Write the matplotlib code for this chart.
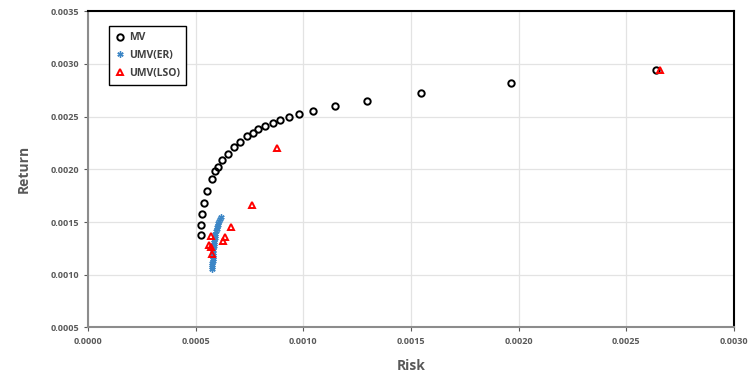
import matplotlib
matplotlib.use("Agg")
import matplotlib.pyplot as plt

plt.rcParams['font.family'] = ['Open Sans', 'DejaVu Sans']

# MV efficient frontier (risk, return)
mv_risk = [0.000523, 0.000525, 0.000531, 0.000540, 0.000554, 0.000574, 0.000588,
           0.000604, 0.000623, 0.000651, 0.000678, 0.000707, 0.000738, 0.000765,
           0.000789, 0.000820, 0.000857, 0.000891, 0.000932, 0.000980, 0.001045,
           0.001148, 0.001297, 0.001545, 0.001965, 0.002637]
mv_ret = [0.001377, 0.001472, 0.001573, 0.001679, 0.001790, 0.001906, 0.001981,
          0.002022, 0.002085, 0.002148, 0.002208, 0.002261, 0.002311, 0.002346,
          0.002377, 0.002408, 0.002443, 0.002465, 0.002497, 0.002525, 0.002554,
          0.002597, 0.002651, 0.002724, 0.002818, 0.002941]

# UMV(ER)
er_risk = [0.000578, 0.000578, 0.000578, 0.000578, 0.000579, 0.000579, 0.000579,
           0.000580, 0.000580, 0.000581, 0.000582, 0.000583, 0.000584, 0.000585,
           0.000587, 0.000588, 0.000590, 0.000592, 0.000594, 0.000597, 0.000599,
           0.000602, 0.000605, 0.000609, 0.000613, 0.000618]
er_ret = [0.00105, 0.00107, 0.00109, 0.00111, 0.00113, 0.00115, 0.00117, 0.00119,
          0.00121, 0.00123, 0.00125, 0.00127, 0.00129, 0.00131, 0.00133, 0.00135,
          0.00137, 0.00139, 0.00141, 0.00143, 0.00145, 0.00147, 0.00149, 0.00151,
          0.00153, 0.00155]

# UMV(LSO)
lso_risk = [0.000879, 0.000760, 0.000662, 0.000571, 0.000637, 0.000628, 0.000563,
            0.000572, 0.000577, 0.002655]
lso_ret = [0.002205, 0.001658, 0.001456, 0.001365, 0.001361, 0.001324, 0.001286,
           0.001267, 0.001195, 0.002941]

x_ticks = [0.0, 0.0005, 0.0010, 0.0015, 0.0020, 0.0025, 0.0030]
y_ticks = [0.0005, 0.0010, 0.0015, 0.0020, 0.0025, 0.0030, 0.0035]

fig = plt.figure(figsize=(7.5, 3.77), dpi=100)
ax = fig.add_axes([0.1173, 0.1313, 0.8613, 0.8395])

ax.plot(mv_risk, mv_ret, linestyle='none', marker='o', markersize=4.6,
        markerfacecolor='none', markeredgecolor='black', markeredgewidth=1.4,
        label='MV', zorder=3)
ax.plot(er_risk, er_ret, linestyle='none', marker=(6, 2, 0), markersize=4.5,
        color='#3C86C6', markeredgewidth=1.0, label='UMV(ER)', zorder=4)
ax.plot(lso_risk, lso_ret, linestyle='none', marker='^', markersize=4.6,
        markerfacecolor='none', markeredgecolor='#FF0000', markeredgewidth=1.4,
        label='UMV(LSO)', zorder=5)

ax.set_xlim(0, 0.0030)
ax.set_ylim(0.0005, 0.0035)
ax.set_xticks(x_ticks)
ax.set_yticks(y_ticks)
ax.set_xticklabels(['%.4f' % v for v in x_ticks])
ax.set_yticklabels(['%.4f' % v for v in y_ticks])
ax.tick_params(labelsize=6.5, colors='#595959', length=3, width=0.8)
for lbl in ax.get_xticklabels() + ax.get_yticklabels():
    lbl.set_fontweight('bold')

ax.grid(True, color='#E3E3E3', linewidth=0.9)
ax.set_axisbelow(True)

for s in ['left', 'bottom']:
    ax.spines[s].set_color('#8C8C8C')
    ax.spines[s].set_linewidth(1.5)
for s in ['top', 'right']:
    ax.spines[s].set_color('black')
    ax.spines[s].set_linewidth(1.5)

ax.set_xlabel('Risk', fontsize=10, fontweight='bold', color='#595959', labelpad=10)
ax.set_ylabel('Return', fontsize=10, fontweight='bold', color='#595959', labelpad=14)

leg = ax.legend(loc='upper left', bbox_to_anchor=(0.0325, 0.9526), fancybox=False,
                edgecolor='black', framealpha=1, prop={'size': 7.5, 'weight': 'bold'},
                handletextpad=0.3, borderpad=0.6, labelspacing=0.65, handlelength=1.0,
                borderaxespad=0)
leg.get_frame().set_linewidth(1.0)
for t in leg.get_texts():
    t.set_color('#404040')

fig.savefig('out.png', dpi=100)
